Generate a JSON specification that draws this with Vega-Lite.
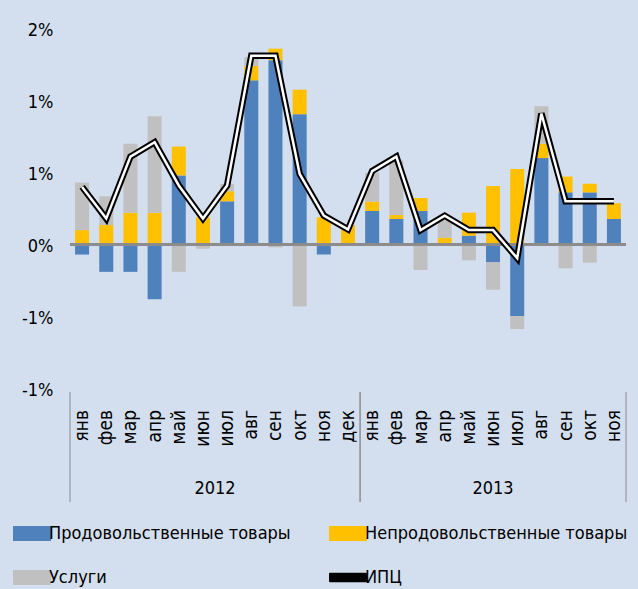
{
  "$schema": "https://vega.github.io/schema/vega-lite/v6.json",
  "width": 556,
  "height": 360,
  "autosize": {"type": "none"},
  "padding": {"left": 70, "top": 28.5, "right": 12, "bottom": 200.5},
  "background": "#D3DFEE",
  "config": {
    "view": {"stroke": null},
    "font": "DejaVu Sans Condensed",
    "axis": {"labelColor": "#000000", "labelFont": "DejaVu Sans Condensed"},
    "legend": {"labelColor": "#000000", "labelFont": "DejaVu Sans Condensed"}
  },
  "datasets": {
    "months": [
      {"key": "янв 2012", "Продовольственные товары": -0.07, "Непродовольственные товары": 0.10, "Услуги": 0.33, "ИПЦ": 0.40},
      {"key": "фев 2012", "Продовольственные товары": -0.19, "Непродовольственные товары": 0.135, "Услуги": 0.20, "ИПЦ": 0.18},
      {"key": "мар 2012", "Продовольственные товары": -0.19, "Непродовольственные товары": 0.22, "Услуги": 0.48, "ИПЦ": 0.61},
      {"key": "апр 2012", "Продовольственные товары": -0.38, "Непродовольственные товары": 0.22, "Услуги": 0.67, "ИПЦ": 0.71},
      {"key": "май 2012", "Продовольственные товары": 0.48, "Непродовольственные товары": 0.20, "Услуги": -0.19, "ИПЦ": 0.41},
      {"key": "июн 2012", "Продовольственные товары": 0.0, "Непродовольственные товары": 0.19, "Услуги": -0.03, "ИПЦ": 0.18},
      {"key": "июл 2012", "Продовольственные товары": 0.30, "Непродовольственные товары": 0.07, "Услуги": 0.05, "ИПЦ": 0.41},
      {"key": "авг 2012", "Продовольственные товары": 1.14, "Непродовольственные товары": 0.10, "Услуги": 0.06, "ИПЦ": 1.31},
      {"key": "сен 2012", "Продовольственные товары": 1.28, "Непродовольственные товары": 0.08, "Услуги": -0.02, "ИПЦ": 1.31},
      {"key": "окт 2012", "Продовольственные товары": 0.905, "Непродовольственные товары": 0.17, "Услуги": -0.43, "ИПЦ": 0.49},
      {"key": "ноя 2012", "Продовольственные товары": -0.07, "Непродовольственные товары": 0.19, "Услуги": 0.0, "ИПЦ": 0.20},
      {"key": "дек 2012", "Продовольственные товары": 0.0, "Непродовольственные товары": 0.135, "Услуги": 0.0, "ИПЦ": 0.105},
      {"key": "янв 2013", "Продовольственные товары": 0.233, "Непродовольственные товары": 0.065, "Услуги": 0.20, "ИПЦ": 0.51},
      {"key": "фев 2013", "Продовольственные товары": 0.177, "Непродовольственные товары": 0.028, "Услуги": 0.38, "ИПЦ": 0.61},
      {"key": "мар 2013", "Продовольственные товары": 0.233, "Непродовольственные товары": 0.09, "Услуги": -0.177, "ИПЦ": 0.10},
      {"key": "апр 2013", "Продовольственные товары": 0.0, "Непродовольственные товары": 0.047, "Услуги": 0.12, "ИПЦ": 0.20},
      {"key": "май 2013", "Продовольственные товары": 0.061, "Непродовольственные товары": 0.16, "Услуги": -0.11, "ИПЦ": 0.10},
      {"key": "июн 2013", "Продовольственные товары": -0.124, "Непродовольственные товары": 0.406, "Услуги": -0.19, "ИПЦ": 0.10},
      {"key": "июл 2013", "Продовольственные товары": -0.497, "Непродовольственные товары": 0.524, "Услуги": -0.09, "ИПЦ": -0.095},
      {"key": "авг 2013", "Продовольственные товары": 0.60, "Непродовольственные товары": 0.10, "Услуги": 0.26, "ИПЦ": 0.91},
      {"key": "сен 2013", "Продовольственные товары": 0.362, "Непродовольственные товары": 0.11, "Услуги": -0.165, "ИПЦ": 0.30},
      {"key": "окт 2013", "Продовольственные товары": 0.362, "Непродовольственные товары": 0.06, "Услуги": -0.126, "ИПЦ": 0.30},
      {"key": "ноя 2013", "Продовольственные товары": 0.177, "Непродовольственные товары": 0.11, "Услуги": 0.0, "ИПЦ": 0.30}
    ],
    "seriesInfo": [
      {"series": "Продовольственные товары", "rank": 1},
      {"series": "Непродовольственные товары", "rank": 2},
      {"series": "Услуги", "rank": 3}
    ],
    "years": [
      {"year": "2012", "start": 0, "end": 12},
      {"year": "2013", "start": 12, "end": 23}
    ]
  },
  "layer": [
    {
      "layer": [
        {
          "data": {"name": "months"},
          "transform": [
            {"fold": ["Продовольственные товары", "Непродовольственные товары", "Услуги"], "as": ["series", "value"]},
            {"lookup": "series", "from": {"data": {"name": "seriesInfo"}, "key": "series", "fields": ["rank"]}}
          ],
          "mark": {"type": "bar"},
          "encoding": {
            "x": {
              "field": "key", "type": "nominal", "sort": null,
              "scale": {"paddingInner": 0.42, "paddingOuter": 0.21},
              "axis": {
                "title": null, "labelExpr": "split(datum.label, ' ')[0]",
                "labelAngle": -90, "labelAlign": "right", "labelBaseline": "middle",
                "labelPadding": 21, "domain": false, "ticks": false, "grid": false,
                "labelFontSize": 19
              }
            },
            "y": {
              "field": "value", "type": "quantitative", "stack": "zero",
              "scale": {"domain": [-1, 1.5], "nice": false, "zero": false},
              "axis": {
                "title": null, "values": [-1, -0.5, 0, 0.5, 1, 1.5],
                "labelExpr": "(datum.value < 0 ? '-' : '') + round(abs(datum.value)) + '%'",
                "domain": false, "ticks": false, "grid": false,
                "labelPadding": 17, "labelFontSize": 18, "labelOffset": 2
              }
            },
            "color": {
              "field": "series", "type": "nominal",
              "scale": {
                "domain": ["Продовольственные товары", "Непродовольственные товары", "Услуги", "ИПЦ"],
                "range": ["#4F81BD", "#FFC000", "#C0C0C0", "#000000"]
              },
              "legend": {
                "title": null, "orient": "none", "legendX": -47, "legendY": 496,
                "direction": "horizontal", "columns": 2,
                "symbolSize": 1444, "symbolType": "M-1,-0.4H1V0.4H-1Z",
                "symbolStrokeWidth": 0,
                "labelFontSize": 18, "labelOffset": 8, "labelLimit": 0,
                "columnPadding": 38, "rowPadding": 26,
                "encode": {
                  "symbols": {
                    "update": {
                      "shape": {"signal": "datum.label === 'ИПЦ' ? 'M-0.95,-0.2H0.95V0.2H-0.95Z' : 'M-1,-0.4H1V0.4H-1Z'"},
                      "fill": {"signal": "datum.label === 'ИПЦ' ? '#ffffff' : scale('color', datum.value)"},
                      "stroke": {"signal": "datum.label === 'ИПЦ' ? '#000000' : 'transparent'"},
                      "strokeWidth": {"signal": "datum.label === 'ИПЦ' ? 1.8 : 0"},
                      "strokeJoin": {"value": "round"}
                    }
                  }
                }
              }
            },
            "order": {"field": "rank", "type": "quantitative"}
          }
        },
        {
          "data": {"name": "months"},
          "mark": {"type": "rule", "color": "#8C8C8C", "strokeWidth": 2},
          "encoding": {"y": {"datum": 0}}
        },
        {
          "data": {"name": "months"},
          "mark": {"type": "line", "color": "#000000", "strokeWidth": 6.5, "strokeJoin": "miter", "strokeCap": "butt"},
          "encoding": {
            "x": {"field": "key", "type": "nominal", "sort": null},
            "y": {"field": "ИПЦ", "type": "quantitative"}
          }
        },
        {
          "data": {"name": "months"},
          "mark": {"type": "line", "color": "#FFFFFF", "strokeWidth": 2.5, "strokeJoin": "miter", "strokeCap": "butt"},
          "encoding": {
            "x": {"field": "key", "type": "nominal", "sort": null},
            "y": {"field": "ИПЦ", "type": "quantitative"}
          }
        }
      ]
    },
    {
      "layer": [
        {
          "data": {"name": "years"},
          "transform": [{"fold": ["start", "end"], "as": ["edge", "pos"]}],
          "mark": {"type": "rule", "color": "#8C8C8C", "strokeWidth": 1},
          "encoding": {
            "x": {"field": "pos", "type": "quantitative", "scale": {"domain": [0, 23], "nice": false, "zero": false}, "axis": null},
            "y": {"datum": -1.024, "scale": {"domain": [-1, 1.5], "nice": false, "zero": false}},
            "y2": {"datum": -1.788}
          }
        },
        {
          "data": {"name": "years"},
          "transform": [
            {"fold": ["start", "end"], "as": ["edge", "pos"]},
            {"aggregate": [{"op": "mean", "field": "pos", "as": "mid"}], "groupby": ["year"]}
          ],
          "mark": {"type": "text", "fontSize": 18, "baseline": "middle", "align": "center", "color": "#000000"},
          "encoding": {
            "x": {"field": "mid", "type": "quantitative", "axis": null},
            "y": {"datum": -1.698},
            "text": {"field": "year"}
          }
        }
      ]
    }
  ],
  "resolve": {"scale": {"x": "independent"}}
}
